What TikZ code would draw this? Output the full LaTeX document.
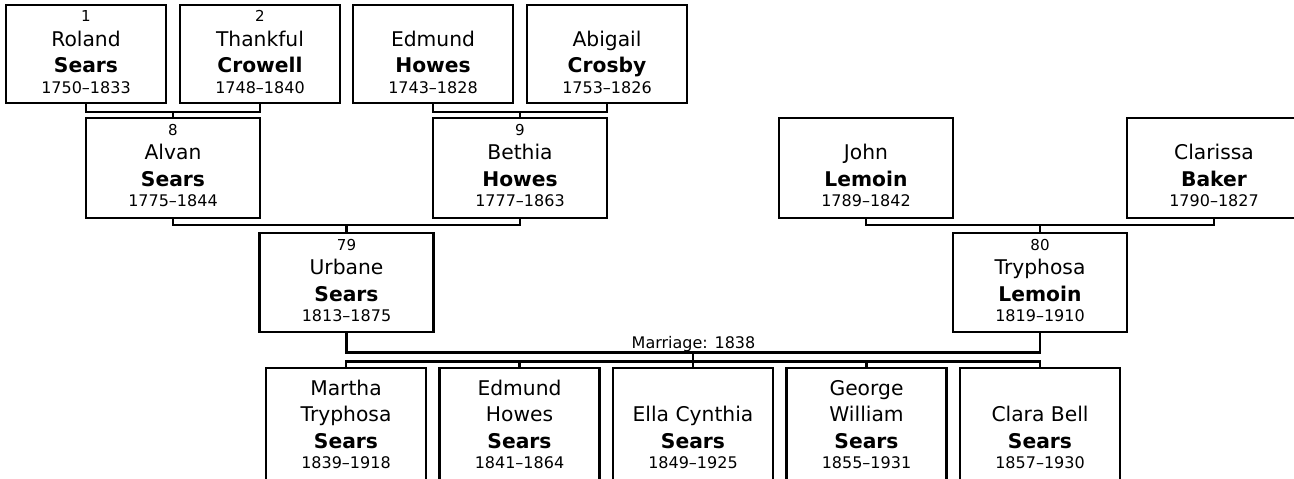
\documentclass[tikz,border=0pt]{standalone}
\usepackage{fontspec}
\setmainfont{DejaVu Sans}
\usetikzlibrary{calc}
\tikzset{
  box/.style={draw, rectangle, line width=1.6pt, outer sep=0pt, inner sep=0pt},
  rowA/.style={box, minimum width=120pt, minimum height=73.5pt},
  rowB/.style={box, minimum width=130.5pt, minimum height=75pt},
  rowC/.style={box, minimum width=130.5pt, minimum height=74.25pt},
  rowD/.style={box, minimum width=120pt, minimum height=88.5pt},
  conn/.style={line width=1.6pt},
  numtxt/.style={anchor=base, inner sep=0pt, font=\fontsize{11.3}{13}\selectfont},
  gtxt/.style={anchor=base, inner sep=0pt, font=\fontsize{15.2}{18}\selectfont},
  stxt/.style={anchor=base, inner sep=0pt, font=\fontsize{15.2}{18}\selectfont\bfseries},
  ytxt/.style={anchor=base, inner sep=0pt, font=\fontsize{12}{14}\selectfont},
}
\newcommand\anc[8]{%
  \node[#1, anchor=north] (#2) at (#3,#4) {};
  \node[numtxt] (#2n) at ($(#2.north)+(0,17)$) {#5};
  \node[gtxt] (#2g) at ($(#2.north)+(0,41.5)$) {#6};
  \node[stxt] (#2s) at ($(#2.north)+(0,68)$) {#7};
  \node[ytxt] (#2y) at ($(#2.north)+(0,88.4)$) {#8};}
\newcommand\kid[6]{%
  \node[rowD, anchor=north] (#1) at (#2,368.3) {};
  \node[gtxt] (#1a) at ($(#1.north)+(0,27)$) {#3};
  \node[gtxt] (#1b) at ($(#1.north)+(0,53.5)$) {#4};
  \node[stxt] (#1s) at ($(#1.north)+(0,80)$) {#5};
  \node[ytxt] (#1y) at ($(#1.north)+(0,100)$) {#6};}
\begin{document}
\begin{tikzpicture}[x=0.75pt, y=-0.75pt]
\useasboundingbox (0,0) rectangle (1294,478);
\fill[white] (0,0) rectangle (1294,478);
\clip (0,0) rectangle (1294,478);
% row 1
\anc{rowA}{pa}{86}{5}{1}{Roland}{Sears}{1750–1833}
\anc{rowA}{pb}{260}{5}{2}{Thankful}{Crowell}{1748–1840}
\anc{rowA}{pc}{433}{5}{}{Edmund}{Howes}{1743–1828}
\anc{rowA}{pd}{607}{5}{}{Abigail}{Crosby}{1753–1826}
% row 2
\anc{rowB}{pe}{173}{118}{8}{Alvan}{Sears}{1775–1844}
\anc{rowB}{pf}{520}{118}{9}{Bethia}{Howes}{1777–1863}
\anc{rowB}{pg}{866}{118}{}{John}{Lemoin}{1789–1842}
\anc{rowB}{ph}{1214}{118}{}{Clarissa}{Baker}{1790–1827}
% row 3
\anc{rowC}{pi}{346.5}{233}{79}{Urbane}{Sears}{1813–1875}
\anc{rowC}{pj}{1040}{233}{80}{Tryphosa}{Lemoin}{1819–1910}
% children
\kid{ca}{346}{Martha}{Tryphosa}{Sears}{1839–1918}
\kid{cb}{519.5}{Edmund}{Howes}{Sears}{1841–1864}
\kid{cc}{693}{}{Ella Cynthia}{Sears}{1849–1925}
\kid{cd}{866.5}{George}{William}{Sears}{1855–1931}
\kid{ce}{1040}{}{Clara Bell}{Sears}{1857–1930}
% parent connectors
\draw[conn] (pa.south) |- ($(pe.north)+(0,-6)$) -| (pb.south);
\draw[conn] (pe.north) -- ++(0,-6);
\draw[conn] (pc.south) |- ($(pf.north)+(0,-6)$) -| (pd.south);
\draw[conn] (pf.north) -- ++(0,-6);
\draw[conn] (pe.south) |- ($(pi.north)+(0,-8)$) -| (pf.south);
\draw[conn] (pi.north) -- ++(0,-8);
\draw[conn] (pg.south) |- ($(pj.north)+(0,-8)$) -| (ph.south);
\draw[conn] (pj.north) -- ++(0,-8);
% marriage and children
\coordinate (marr) at (693,352.5);
\coordinate (sib) at (693,361.5);
\draw[conn] (pi.south) |- (marr) -| (pj.south);
\draw[conn] (marr) -- (sib);
\draw[conn] (ca.north) |- (sib) -| (ce.north);
\draw[conn] (cb.north) -- (cb.north |- sib);
\draw[conn] (cc.north) -- (sib);
\draw[conn] (cd.north) -- (cd.north |- sib);
\node[ytxt] (mlabel) at (693.5,348) {Marriage: 1838};
\end{tikzpicture}
\end{document}
